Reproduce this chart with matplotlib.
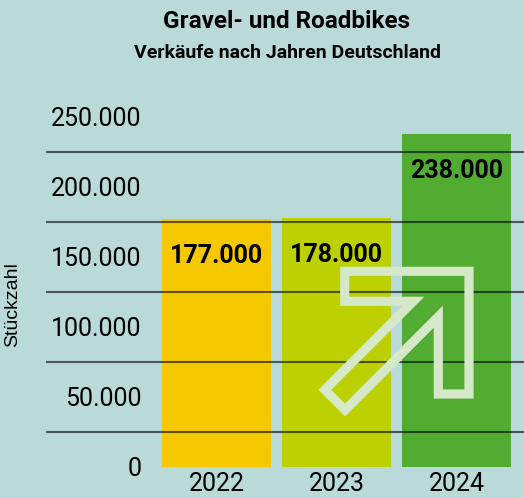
import matplotlib
matplotlib.use('Agg')
import matplotlib.pyplot as plt
from matplotlib.patches import Polygon
from matplotlib.ticker import FixedLocator, FuncFormatter
import numpy as np

# data
years = ['2022', '2023', '2024']
sales = [177000, 178000, 238000]
bar_colors = ['#f5c800', '#bdd000', '#52ac32']
yticks = [0, 50000, 100000, 150000, 200000, 250000]

bg = '#b9dad9'
W, H = 524, 498

def fmt(v):
    return f'{int(v):,}'.replace(',', '.')

plt.rcParams['font.family'] = ['Roboto', 'DejaVu Sans']

fig = plt.figure(figsize=(W / 100, H / 100), dpi=100, facecolor=bg)
ax = fig.add_axes([46 / W, 31.3 / H, 1 - 46 / W, 366.7 / H])
ax.set_facecolor(bg)

index = np.arange(len(years))
ax.bar(index, sales, 0.908, color=bar_colors, zorder=1)

ax.set_xlim(-1.42, 2.5625)
ax.set_ylim(0, 262000)

for s in ax.spines.values():
    s.set_visible(False)

ax.set_xticks(index)
ax.set_xticklabels(years, fontsize=18)
ax.set_yticks(yticks)
ax.yaxis.set_major_formatter(FuncFormatter(lambda v, p: fmt(v)))
ax.yaxis.set_minor_locator(FixedLocator([y + 25000 for y in yticks[:-1]]))
ax.tick_params(axis='y', which='both', length=0, pad=-69, labelsize=18)
ax.tick_params(axis='x', length=0, pad=4)
for lab in ax.get_yticklabels():
    lab.set_horizontalalignment('right')

ax.set_axisbelow(False)
ax.grid(axis='y', which='minor', color='black', alpha=0.6, lw=1.5)
ax.grid(axis='y', which='major', visible=False)

for i, v in enumerate(sales):
    ax.annotate(fmt(v), xy=(i, v), xytext=(0, -27), textcoords='offset points',
                ha='center', va='center', fontsize=18, fontweight='bold', zorder=3)

ax.set_ylabel('Stückzahl', fontsize=14, family=['Liberation Sans'], va='center')
ax.yaxis.set_label_coords(-33.5 / 478, (466.7 - 305) / 366.7)

# decorative arrow outline
arrow_px = [(344.7, 271.3), (469.0, 271.3), (469.0, 394.0), (438.3, 394.0),
            (438.3, 316.7), (345.0, 410.0), (324.8, 389.8), (413.3, 301.3),
            (344.7, 301.3)]
arrow = Polygon([(x / W, 1 - y / H) for x, y in arrow_px], closed=True, fill=False,
                edgecolor='#d5e8c8', lw=6.6, joinstyle='miter',
                transform=fig.transFigure, zorder=5)
fig.add_artist(arrow)

fig.text(287 / W, 1 - 22 / H, 'Gravel- und Roadbikes', ha='center', va='center',
         fontsize=17.5, fontweight='bold')
fig.text(287 / W, 1 - 53 / H, 'Verkäufe nach Jahren Deutschland', ha='center',
         va='center', fontsize=14, fontweight='bold')

fig.savefig('out.png', dpi=100, facecolor=bg)
